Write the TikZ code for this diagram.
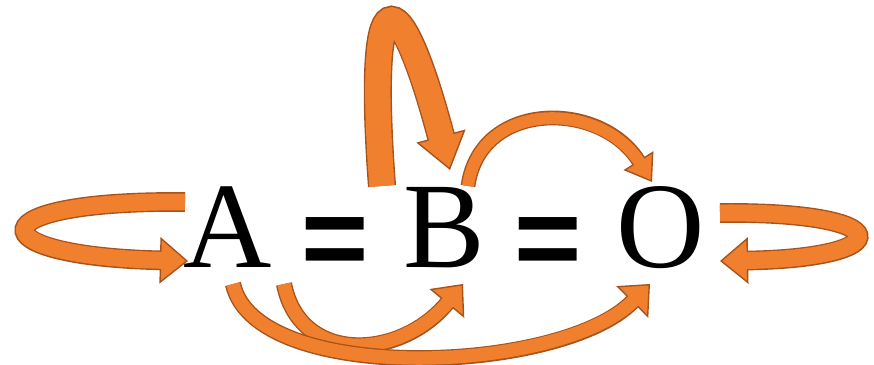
\documentclass[tikz,border=0pt]{standalone}
\usepackage{fontspec}
\newfontfamily\lettfont{Liberation Serif}
\newfontfamily\eqfont{Liberation Sans}
\usetikzlibrary{arrows.meta}
\definecolor{bandfill}{RGB}{240,128,45}
\definecolor{bandedge}{RGB}{168,82,28}

\begin{document}
\begin{tikzpicture}[x=0.025cm,y=-0.025cm,
  letter/.style={font=\lettfont\fontsize{87}{90}\selectfont,inner sep=0pt,anchor=base},
  equal/.style={font=\eqfont\bfseries\fontsize{82}{86}\selectfont,inner sep=0pt,anchor=base},
  band/.style n args={3}{draw=bandedge,line width=#1,
    -{Triangle[length=#2,width=#3,line width=1pt,fill=bandfill]},
    postaction={draw=bandfill,line width=#1-2pt,-,shorten >=#2-1.5pt}}
]
\useasboundingbox (0,0) rectangle (874,365);

\node[letter] (A) at (228,268) {A};
\node[equal] (eq1) at (335,278) {=};
\node[letter] (B) at (444,268) {B};
\node[equal] (eq2) at (548,278) {=};
\node[letter] (O) at (661,268) {O};

% loop ends
\coordinate (A out) at (185,202);
\coordinate (A in) at (188,261);
\coordinate (O out) at (720,213);
\coordinate (O in) at (720,261);
\coordinate (B out) at (382,186);
\coordinate (B in) at (450,170);
\coordinate (B top) at (468,186);
\coordinate (O top) at (652,182);
% lower ends
\coordinate (A low1) at (233,284);
\coordinate (A low2) at (284,284);
\coordinate (B low) at (463,284);
\coordinate (O low) at (650,284);

\draw[band={14pt}{20pt}{33pt}] (A out) .. controls (-25,200) and (-25,256) .. (A in);
\draw[band={14pt}{20pt}{33pt}] (O out) .. controls (900,211) and (900,258) .. (O in);
\draw[band={20pt}{25pt}{36pt}] (B out) .. controls (366,-28) and (398,-25) .. (B in);
\draw[band={10.5pt}{18pt}{25pt}] (B top) .. controls (480,100) and (600,100) .. (O top);
\draw[band={11.5pt}{18pt}{32pt}] (A low2) .. controls (300,365) and (400,360) .. (B low);
\draw[band={11.5pt}{18pt}{32pt}] (A low1) .. controls (255,385) and (560,375) .. (O low);
\end{tikzpicture}
\end{document}
